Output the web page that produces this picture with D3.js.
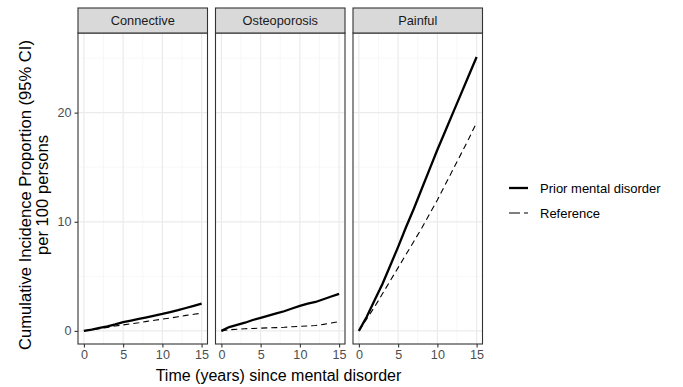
<!DOCTYPE html>
<html><head><meta charset="utf-8">
<script src="https://cdn.jsdelivr.net/npm/d3@7"></script>
<style>body{margin:0;background:#fff;} text{font-family:"Liberation Sans",Arial,sans-serif;}</style>
</head><body>
<svg id="chart" width="683" height="387"></svg>
<script>
const panels = ["Connective", "Osteoporosis", "Painful"];
const years = [0,1,2,3,4,5,6,7,8,9,10,11,12,13,14,15];
const connectivePrior = [0,0.12,0.28,0.42,0.6,0.8,0.95,1.1,1.25,1.4,1.55,1.72,1.9,2.1,2.3,2.5];
const connectiveRef   = [0,0.1,0.2,0.32,0.45,0.55,0.65,0.75,0.87,0.98,1.08,1.18,1.3,1.42,1.52,1.62];
const osteoPrior = [0,0.35,0.55,0.75,1.0,1.2,1.4,1.6,1.8,2.05,2.3,2.5,2.65,2.9,3.15,3.4];
const osteoRef   = [0,0.1,0.15,0.2,0.22,0.25,0.28,0.3,0.33,0.38,0.42,0.45,0.5,0.6,0.72,0.85];
const painfulPrior = [0,1.3,2.8,4.3,6.0,7.7,9.5,11.2,13.0,14.8,16.6,18.3,20.0,21.7,23.4,25.1];
const painfulRef   = [0,1.1,2.2,3.4,4.6,5.8,7.0,8.2,9.4,10.7,12.0,13.4,14.8,16.2,17.6,19.1];
const xTicks = [0,5,10,15];
const yTicks = [0,10,20];
const legendLabels = ["Prior mental disorder", "Reference"];

const seriesByPanel = {
  "Connective": [connectivePrior, connectiveRef],
  "Osteoporosis": [osteoPrior, osteoRef],
  "Painful": [painfulPrior, painfulRef]
};

const svg = d3.select("#chart");
const panelLeft = [78, 215.5, 353];
const panelW = 129.5;
const stripTop = 8, stripH = 25, plotTop = 33, plotBottom = 344;

const y = d3.scaleLinear().domain([-1.2, 27.3]).range([plotBottom, plotTop]);
const styles = [{w:2.3, dash:null},{w:1.1, dash:"6,4"}];

panels.forEach((name, i) => {
  const x0 = panelLeft[i];
  const x = d3.scaleLinear().domain([-0.75, 15.75]).range([x0, x0 + panelW]);
  const g = svg.append("g");
  [2.5, 7.5, 12.5].forEach(v => g.append("line").attr("x1", x(v)).attr("x2", x(v)).attr("y1", plotTop).attr("y2", plotBottom).attr("stroke", "#f2f2f2").attr("stroke-width", 0.6));
  [5, 15, 25].forEach(v => g.append("line").attr("x1", x0).attr("x2", x0+panelW).attr("y1", y(v)).attr("y2", y(v)).attr("stroke", "#f2f2f2").attr("stroke-width", 0.6));
  xTicks.forEach(v => g.append("line").attr("x1", x(v)).attr("x2", x(v)).attr("y1", plotTop).attr("y2", plotBottom).attr("stroke", "#ebebeb").attr("stroke-width", 1.2));
  yTicks.forEach(v => g.append("line").attr("x1", x0).attr("x2", x0+panelW).attr("y1", y(v)).attr("y2", y(v)).attr("stroke", "#ebebeb").attr("stroke-width", 1.2));
  seriesByPanel[name].forEach((vals, k) => {
    const line = d3.line().x((d, j) => x(years[j])).y(d => y(d));
    g.append("path").datum(vals).attr("d", line).attr("fill", "none")
      .attr("stroke", "#000").attr("stroke-width", styles[k].w)
      .attr("stroke-dasharray", styles[k].dash);
  });
  g.append("rect").attr("x", x0).attr("y", plotTop).attr("width", panelW).attr("height", plotBottom - plotTop)
    .attr("fill", "none").attr("stroke", "#333").attr("stroke-width", 1.1);
  g.append("rect").attr("x", x0).attr("y", stripTop).attr("width", panelW).attr("height", stripH)
    .attr("fill", "#d9d9d9").attr("stroke", "#333").attr("stroke-width", 1.1);
  g.append("text").attr("x", x0 + panelW/2).attr("y", stripTop + stripH/2).attr("dy", "0.35em")
    .attr("text-anchor", "middle").attr("font-size", 12.8).attr("fill", "#1a1a1a").text(name);
  const xa = svg.append("g").attr("transform", `translate(0,${plotBottom})`)
    .call(d3.axisBottom(x).tickValues(xTicks).tickSize(3.5).tickPadding(3).tickFormat(d3.format("d")));
  xa.select(".domain").remove();
  xa.selectAll(".tick line").attr("stroke", "#333").attr("stroke-width", 1.1);
  xa.selectAll(".tick text").attr("fill", "#4d4d4d").attr("font-size", 12.6).attr("font-family", "Liberation Sans, Arial, sans-serif");
});

const ya = svg.append("g").attr("transform", `translate(${panelLeft[0]},0)`)
  .call(d3.axisLeft(y).tickValues(yTicks).tickSize(3.5).tickPadding(3).tickFormat(d3.format("d")));
ya.select(".domain").remove();
ya.selectAll(".tick line").attr("stroke", "#333").attr("stroke-width", 1.1);
ya.selectAll(".tick text").attr("fill", "#4d4d4d").attr("font-size", 12.6).attr("font-family", "Liberation Sans, Arial, sans-serif");

svg.append("text").attr("x", 278.5).attr("y", 380.5)
  .attr("text-anchor", "middle").attr("font-size", 16).attr("fill", "#000").text("Time (years) since mental disorder");
const yt = svg.append("text").attr("transform", `translate(30.5,195) rotate(-90)`)
  .attr("text-anchor", "middle").attr("font-size", 16.6).attr("fill", "#000");
yt.append("tspan").attr("x", 0).attr("dy", 0).text("Cumulative Incidence Proportion (95% CI)");
yt.append("tspan").attr("x", 0).attr("dy", 17.5).text("per 100 persons");

legendLabels.forEach((lab, k) => {
  const ly = 188 + k * 25;
  svg.append("line").attr("x1", 509).attr("x2", 528).attr("y1", ly).attr("y2", ly)
    .attr("stroke", "#000").attr("stroke-width", styles[k].w).attr("stroke-dasharray", styles[k].dash ? "11,4" : null);
  svg.append("text").attr("x", 540).attr("y", ly).attr("dy", "0.35em").attr("font-size", 13).attr("fill", "#000").text(lab);
});
</script>
</body></html>
